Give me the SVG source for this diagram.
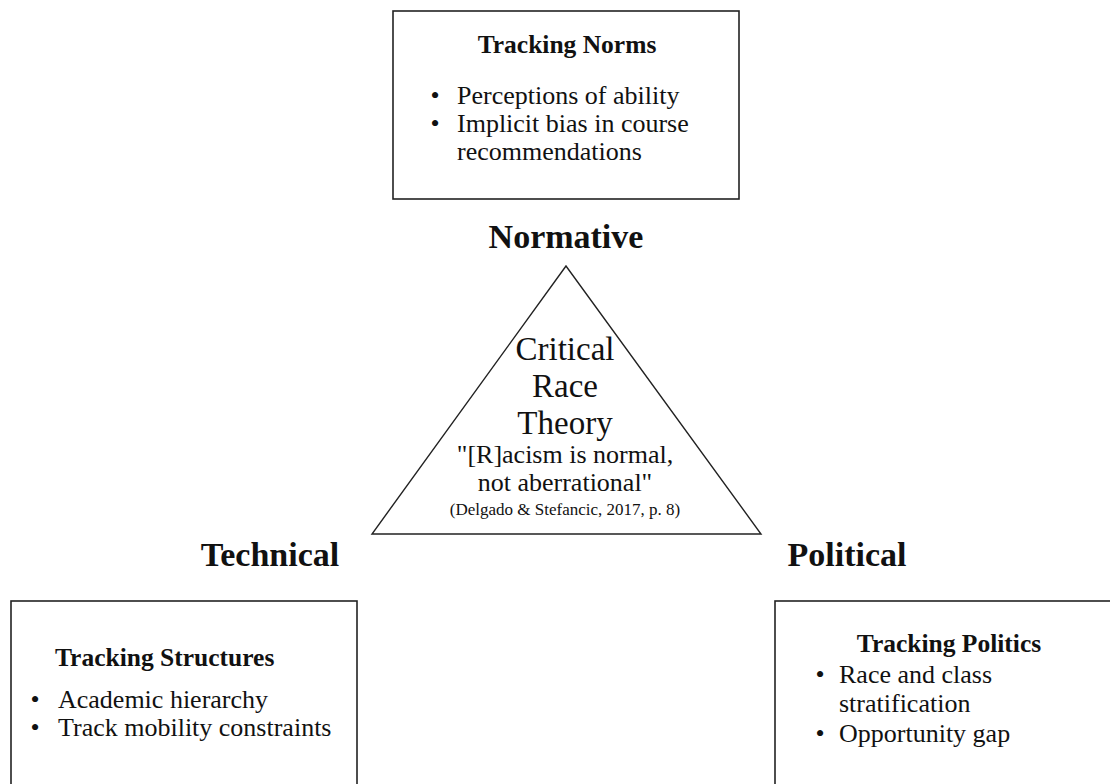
<svg xmlns="http://www.w3.org/2000/svg" width="1110" height="784" viewBox="0 0 1110 784">
  <style>
    .box { fill: #ffffff; stroke: #222222; stroke-width: 1.6; }
    .tri { fill: #ffffff; stroke: #222222; stroke-width: 1.4; }
    text { font-family: "Liberation Serif", "Times New Roman", serif; fill: #111111; }
    .head { font-size: 25.5px; font-weight: bold; }
    .body { font-size: 26px; }
    .dim { font-size: 34px; font-weight: bold; text-anchor: middle; }
    .crt { font-size: 33px; text-anchor: middle; }
    .quote { font-size: 26px; text-anchor: middle; }
    .cite { font-size: 17px; text-anchor: middle; }
  </style>

  <rect width="1110" height="784" fill="#ffffff"/>

  <!-- Normative: tracking norms -->
  <g id="tracking-norms">
    <rect class="box" x="393" y="11" width="346" height="188"/>
    <text class="head" x="567" y="53" text-anchor="middle">Tracking Norms</text>
    <text class="body" x="435" y="104" text-anchor="middle">•</text>
    <text class="body" x="457" y="104">Perceptions of ability</text>
    <text class="body" x="435" y="132" text-anchor="middle">•</text>
    <text class="body" x="457" y="132">Implicit bias in course</text>
    <text class="body" x="457" y="160">recommendations</text>
  </g>

  <g id="label-normative">
    <text class="dim" x="566" y="248">Normative</text>
  </g>

  <!-- Central triangle -->
  <g id="critical-race-theory">
    <polygon class="tri" points="566,266 372,534 761,534"/>
    <text class="crt" x="565" y="360">Critical</text>
    <text class="crt" x="565" y="397">Race</text>
    <text class="crt" x="565" y="434">Theory</text>
    <text class="quote" x="565" y="463">"[R]acism is normal,</text>
    <text class="quote" x="565" y="491">not aberrational"</text>
    <text class="cite" x="565" y="515">(Delgado &amp; Stefancic, 2017, p. 8)</text>
  </g>

  <g id="label-technical">
    <text class="dim" x="270" y="566">Technical</text>
  </g>

  <g id="label-political">
    <text class="dim" x="847" y="566">Political</text>
  </g>

  <!-- Technical: tracking structures -->
  <g id="tracking-structures">
    <rect class="box" x="11" y="601" width="346" height="300"/>
    <text class="head" x="55" y="666">Tracking Structures</text>
    <text class="body" x="35" y="708" text-anchor="middle">•</text>
    <text class="body" x="58" y="708">Academic hierarchy</text>
    <text class="body" x="35" y="736" text-anchor="middle">•</text>
    <text class="body" x="58" y="736">Track mobility constraints</text>
  </g>

  <!-- Political: tracking politics -->
  <g id="tracking-politics">
    <rect class="box" x="775" y="601" width="400" height="300"/>
    <text class="head" x="949" y="652" text-anchor="middle">Tracking Politics</text>
    <text class="body" x="820" y="683" text-anchor="middle">•</text>
    <text class="body" x="839" y="683">Race and class</text>
    <text class="body" x="839" y="712">stratification</text>
    <text class="body" x="820" y="742" text-anchor="middle">•</text>
    <text class="body" x="839" y="742">Opportunity gap</text>
  </g>

  <g id="connectors"/>
</svg>
